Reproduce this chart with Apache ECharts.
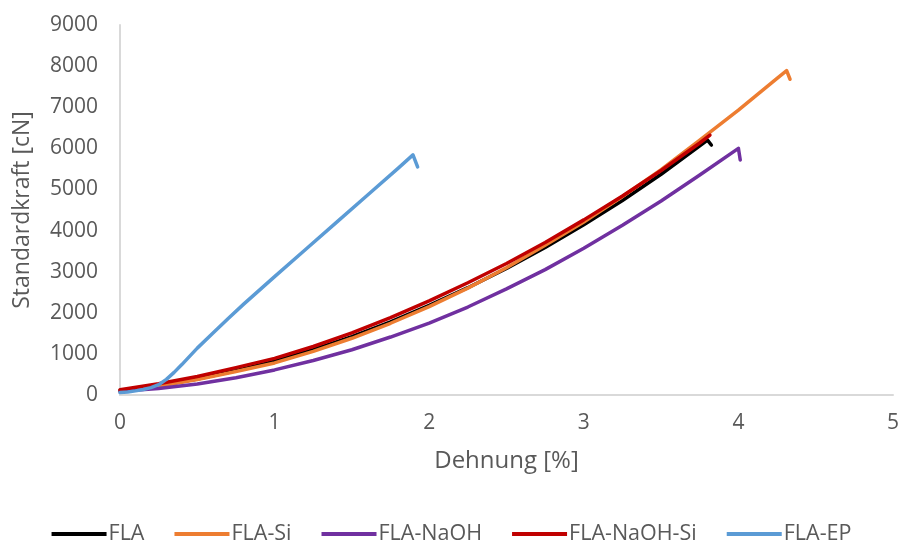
<!DOCTYPE html>
<html>
<head>
<meta charset="utf-8">
<script src="https://cdn.jsdelivr.net/npm/echarts@6/dist/echarts.min.js"></script>
<style>html,body{margin:0;padding:0;background:#fff}#c{width:903px;height:544px}</style>
</head>
<body>
<div id="c"></div>
<script>
// Data: [Dehnung %, Standardkraft cN]
const seriesNames = ['FLA', 'FLA-Si', 'FLA-NaOH', 'FLA-NaOH-Si', 'FLA-EP'];
const FLA = [[0,110],[0.25,231],[0.5,391],[0.75,590],[1,820],[1.25,1100],[1.5,1420],[1.75,1780],[2,2180],[2.25,2610],[2.5,3080],[2.75,3590],[3,4140],[3.25,4730],[3.5,5370],[3.75,6060],[3.8,6200],[3.825,6080]];
const FLA_Si = [[0,100],[0.25,215],[0.5,375],[0.75,570],[1,780],[1.25,1060],[1.5,1380],[1.75,1745],[2,2150],[2.25,2600],[2.5,3095],[2.75,3640],[3,4210],[3.25,4830],[3.5,5480],[3.75,6200],[4,6930],[4.25,7700],[4.312,7889],[4.334,7680]];
const FLA_NaOH = [[0,90],[0.25,160],[0.5,270],[0.75,420],[1,610],[1.25,840],[1.5,1100],[1.75,1410],[2,1750],[2.25,2140],[2.5,2580],[2.75,3050],[3,3570],[3.25,4130],[3.5,4720],[3.75,5350],[4,6000],[4.012,5716]];
const FLA_NaOH_Si = [[0,130],[0.25,272],[0.5,450],[0.75,666],[1,890],[1.25,1180],[1.5,1510],[1.75,1880],[2,2290],[2.25,2730],[2.5,3200],[2.75,3710],[3,4260],[3.25,4840],[3.5,5460],[3.75,6130],[3.816,6320]];
const FLA_EP = [[0,60],[0.05,75],[0.1,100],[0.15,135],[0.2,180],[0.25,250],[0.3,380],[0.35,550],[0.4,740],[0.5,1140],[0.6,1500],[0.7,1860],[0.8,2210],[1,2880],[1.2,3540],[1.4,4200],[1.6,4860],[1.8,5520],[1.895,5840],[1.925,5550]];
const seriesData = [FLA, FLA_Si, FLA_NaOH, FLA_NaOH_Si, FLA_EP];
const colors = ['#000000', '#ed7d31', '#7030a0', '#c00000', '#5b9bd5'];
const xTicks = {min: 0, max: 5, interval: 1};
const yTicks = {min: 0, max: 9000, interval: 1000};

const font = 'Open Sans';
const chart = echarts.init(document.getElementById('c'));
chart.setOption({
  animation: false,
  color: colors,
  grid: {left: 120, right: 10, top: 25, bottom: 149},
  legend: {
    top: 518,
    left: 'center',
    icon: 'rect',
    itemWidth: 55,
    itemHeight: 4,
    itemGap: 30,
    textStyle: {fontFamily: font, fontSize: 21.5, color: '#595959', padding: [0,0,0,-3]},
    data: seriesNames
  },
  xAxis: {
    type: 'value',
    min: xTicks.min, max: xTicks.max, interval: xTicks.interval,
    name: 'Dehnung [%]',
    nameLocation: 'middle',
    nameGap: 54,
    nameTextStyle: {fontFamily: font, fontSize: 24, color: '#595959'},
    axisLine: {lineStyle: {color: '#d9d9d9', width: 2}},
    axisTick: {show: false},
    splitLine: {show: false},
    axisLabel: {fontFamily: font, fontSize: 21, color: '#595959', margin: 18}
  },
  yAxis: {
    type: 'value',
    min: yTicks.min, max: yTicks.max, interval: yTicks.interval,
    name: 'Standardkraft [cN]',
    nameLocation: 'middle',
    nameGap: 86,
    nameTextStyle: {fontFamily: font, fontSize: 23, color: '#595959'},
    axisLine: {show: true, lineStyle: {color: '#d9d9d9', width: 2}},
    axisTick: {show: false},
    splitLine: {show: false},
    axisLabel: {fontFamily: font, fontSize: 21, color: '#595959', margin: 22, formatter: v => String(v)}
  },
  series: seriesNames.map((n, i) => ({
    name: n,
    type: 'line',
    data: seriesData[i],
    showSymbol: false,
    symbol: 'none',
    lineStyle: {width: 3.5, color: colors[i], cap: 'round', join: 'round'},
    z: 2 + i
  }))
});
</script>
</body>
</html>
